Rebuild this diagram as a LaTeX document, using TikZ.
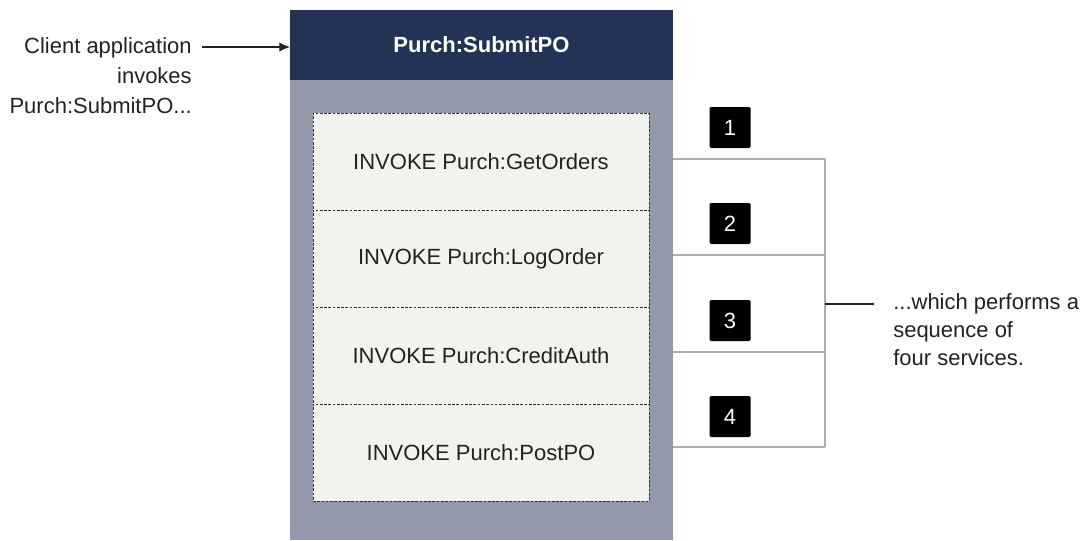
\documentclass[tikz,border=0pt]{standalone}
\usepackage{fontspec}
\setmainfont{Liberation Sans}
\usepackage{tikz}
\usetikzlibrary{positioning, arrows.meta}
\definecolor{headnavy}{RGB}{36,50,86}
\definecolor{bodygray}{RGB}{147,152,171}
\definecolor{rowfill}{RGB}{242,243,239}
\definecolor{linkgray}{RGB}{172,172,172}
\definecolor{textdark}{RGB}{34,34,34}
\tikzset{
  headbox/.style = {rectangle, fill=headnavy, text=white, minimum width=287.25pt,
                    minimum height=52.5pt, inner sep=0pt, outer sep=0pt,
                    font=\fontsize{16.5}{21}\selectfont\bfseries},
  bodybox/.style = {rectangle, fill=bodygray, minimum width=287.25pt,
                    minimum height=345pt, inner sep=0pt, outer sep=0pt},
  stepbox/.style = {rectangle, draw=black!80, dash pattern=on 2pt off 1.2pt, line width=0.7pt,
                    fill=rowfill, minimum width=252pt, minimum height=72.75pt,
                    inner sep=0pt, outer sep=0pt, text=textdark},
  numbox/.style = {rectangle, fill=black, rounded corners=1pt, text=white,
                   minimum size=30.75pt, inner sep=0pt},
  notetext/.style = {text=textdark, inner sep=0pt},
  linkline/.style = {draw=linkgray, line width=1.5pt},
  calloutline/.style = {draw=textdark, line width=0.9pt},
  callarrow/.style = {-{Latex[length=8pt,width=7pt]}, draw=textdark, line width=0.9pt}
}
\begin{document}
\begin{tikzpicture}[x=0.75pt, y=-0.75pt, every node/.style={font=\fontsize{16.5}{21}\selectfont}]
\useasboundingbox (0,0) rectangle (1083,540);

\node[headbox] (head) at (481.5,45) {Purch:SubmitPO};
\node[bodybox, below=0pt of head] (body) {};

\node[stepbox] (getorders) at (481,161.5) {INVOKE Purch:GetOrders};
\node[stepbox, below=0pt of getorders] (logorder)   {INVOKE Purch:LogOrder};
\node[stepbox, below=0pt of logorder]  (creditauth) {INVOKE Purch:CreditAuth};
\node[stepbox, below=0pt of creditauth] (postpo)    {INVOKE Purch:PostPO};

\node[numbox] (num1) at (730,127.5) {1};
\node[numbox] (num2) at (730,223.5) {2};
\node[numbox] (num3) at (730,320.5) {3};
\node[numbox] (num4) at (730,416.5) {4};

\node[notetext, anchor=east, align=right, font=\fontsize{16.5}{22.5}\selectfont]
  (client) at (192,76) {Client application\\invokes\\Purch:SubmitPO...};
\node[notetext, anchor=west, align=left] (which) at (893,330)
  {...which performs a\\sequence of\\four services.};

\coordinate (clienttip) at (202,47);
\coordinate (spine) at (825,304);

\draw[callarrow] (clienttip) -- (clienttip -| head.west);
\draw[linkline] ([yshift=2.25pt]body.east |- getorders) -- ([yshift=2.25pt]spine |- getorders);
\draw[linkline] ([yshift=2.5pt]body.east |- logorder) -- ([yshift=2.5pt]spine |- logorder);
\draw[linkline] ([yshift=2.5pt]body.east |- creditauth) -- ([yshift=2.5pt]spine |- creditauth);
\draw[linkline] ([yshift=4pt]body.east |- postpo) -- ([yshift=4pt]spine |- postpo);
\draw[linkline] ([yshift=2.25pt]spine |- getorders) -- ([yshift=4pt]spine |- postpo);
\draw[calloutline] (spine) -- ([xshift=-14.25pt]which.west |- spine);
\end{tikzpicture}
\end{document}
